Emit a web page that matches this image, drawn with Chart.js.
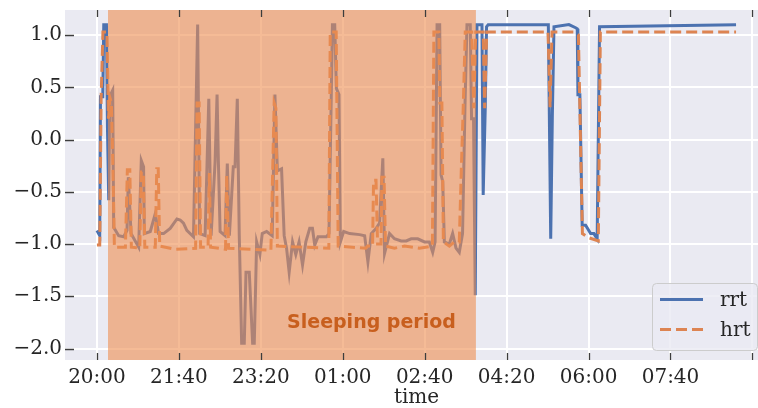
<!DOCTYPE html>
<html>
<head>
<meta charset="utf-8">
<script src="https://cdn.jsdelivr.net/npm/chart.js@4.4.0/dist/chart.umd.min.js"></script>
<style>
  html, body { margin: 0; padding: 0; background: #fff; overflow: hidden; }
</style>
</head>
<body>
<canvas id="myChart" width="770" height="408"></canvas>
<script>
// time axis is in minutes since 20:00
var xTicks = [0, 100, 200, 300, 400, 500, 600, 700, 800];
var xTickLabels = ['20:00', '21:40', '23:20', '01:00', '02:40', '04:20', '06:00', '07:40'];
var yTicks = [-2.0, -1.5, -1.0, -0.5, 0.0, 0.5, 1.0];

// sleeping period (minutes since 20:00)
var sleepStart = 13.5;
var sleepEnd = 462.5;
var sleepLabel = 'Sleeping period';

// rrt
var rrtTime = [0, 3.4, 4.3, 7.1, 8.3, 11.6, 12.8, 14.4, 15.6, 19.2, 20.4, 26.5, 32.6, 36.7, 38.3, 41.6,
  50.9, 54.1, 56.9, 57.8, 65.1, 71.2, 75.2, 81.3, 89.4, 97.6, 101.6, 105.6, 109.7, 117.8, 122.9, 125.3,
  132, 136.5, 139.3, 144.2, 146.6, 148.2, 150.3, 156.3, 159.1, 161.6, 166.4, 168.5, 171.3, 173.7, 176.6,
  179.8, 181.9, 185.9, 190, 192, 194.9, 198.9, 201.7, 207.1, 213.9, 217.2, 220.2, 225.3, 228.5, 231.4,
  234.6, 238.7, 242.7, 246.7, 250.9, 254.9, 259.7, 263, 265.8, 269.8, 280.1, 283.2, 287.4, 290.2, 292.2,
  295.4, 297.1, 301.1, 308.4, 320.6, 326.7, 330.7, 334.8, 340.9, 344.9, 348.9, 351, 357.1, 363.1, 371.3,
  377.4, 383.5, 391.5, 399.7, 405.7, 409.8, 412.7, 415.1, 418.3, 420, 422, 424, 430.1, 434.1, 438.2,
  442.2, 446.2, 449.2, 451.6, 455.6, 457.2, 459.6, 461.7, 463.8, 469.9, 471.4, 473.9, 475.5, 477.5,
  550.9, 553.8, 555.8, 557.8, 576, 584.2, 586.2, 587, 589.4, 592.2, 596.4, 602.5, 606.5, 610.5, 613.4, 780];
var rrtValue = [-0.87, -0.92, 0.41, 0.41, 1.1, 1.1, 0.12, -0.58, 0.41, 0.47, -0.84, -0.92, -0.93, -0.87, -0.36, -0.9,
  -1.03, -0.2, -0.26, -0.9, -0.88, -0.71, -0.9, -0.9, -0.85, -0.76, -0.77, -0.8, -0.87, -0.93, 1.1, -0.9,
  -0.92, 0.39, -0.92, -0.21, 0.43, -0.21, -0.88, -0.92, -0.23, -0.92, -0.26, -0.26, 0.39, -0.92, -1.95,
  -1.95, -1.27, -1.27, -1.95, -1.95, -0.98, -1.1, -0.9, -0.88, -0.92, 0.43, -0.3, -0.28, -0.92, -1.04,
  -1.27, -0.98, -1.1, -0.98, -1.2, -0.98, -0.85, -0.85, -1.01, -0.93, -0.93, -0.9, 1.1, 1.1, 0.49,
  0.43, -0.98, -0.88, -0.9, -0.91, -0.92, -1.17, -0.9, -0.85, -0.8, -0.18, -1.09, -0.9, -0.95, -0.97,
  -0.97, -0.95, -0.95, -0.98, -0.98, -1.08, -0.98, 1.1, 1.1, -0.34, -0.4, -0.98, -1.0, -0.9, -1.04,
  -1.08, -0.9, 0.33, 1.1, 1.1, 0.2, 0.2, -1.49, 1.1, 1.1, -0.53, 0.3, 1.08, 1.1,
  1.1, -0.95, 0.23, 1.08, 1.1, 1.07, 1.06, 0.43, 0.43, -0.82, -0.82, -0.9, -0.9, -0.95, 1.08, 1.1];

// hrt
var hrtTime = [0, 3.4, 5.1, 7.3, 12.2, 14, 15.8, 17.6, 19.5, 21.3, 34.7, 37.1, 40.1, 42, 52.3, 54.1, 56.6,
  58.4, 71.2, 73, 74.8, 76.6, 95.5, 120.4, 122.2, 124.7, 126.5, 135.6, 137.2, 138.7, 156.9, 158.4, 160.6,
  212.3, 216.3, 218.4, 220.2, 283, 284.7, 292, 294.4, 327.9, 330.3, 336.4, 337.6, 340.6, 342.5, 346.7,
  347.7, 350.4, 352.2, 363.1, 375.3, 393.5, 409.4, 411.2, 417.3, 418.5, 421, 422.8, 430.1, 436.2, 442.2,
  444.6, 447.1, 449.5, 457.4, 459.9, 462.3, 471.4, 473.2, 475.7, 550.5, 553, 555.4, 582.1, 587.6, 592.5,
  600.4, 611.9, 614.4, 780];
var hrtValue = [-1.01, -1.01, 0.4, 1.03, 1.03, 0.2, 0.4, 0.35, -0.25, -1.03, -1.03, -0.29, -0.29, -1.03, -1.04, -0.31, -0.31,
  -1.03, -1.03, -0.28, -0.28, -1.02, -1.05, -1.04, 0.35, 0.35, -1.03, -1.03, -0.32, -1.03, -1.05, -0.34, -1.04,
  -1.06, 0.35, 0.3, -1.02, -1.04, 1.03, 1.03, -1.02, -1.04, -1.02, -1.02, -0.39, -0.39, -1.0, -1.0,
  -0.36, -0.36, -1.02, -1.04, -1.02, -1.04, -1.02, 1.03, 1.03, 0.35, 0.35, -0.98, -1.02, -0.98, -0.98,
  -0.31, 0.33, 1.03, 1.03, 0.3, 1.03, 1.03, 0.3, 1.03, 1.03, 0.31, 1.03, 1.03, 1.0, -0.9,
  -0.94, -0.97, 1.03, 1.03];

var textColor = '#262626';

function toPoints(ts, vs) {
  return ts.map(function (t, i) { return { x: t, y: vs[i] }; });
}

// grey plot background
const plotBackground = {
  id: 'plotBackground',
  beforeDraw(chart) {
    const { ctx, chartArea: a } = chart;
    ctx.save();
    ctx.fillStyle = '#eaeaf2';
    ctx.fillRect(a.left, a.top, a.right - a.left, a.bottom - a.top);
    ctx.restore();
  }
};

// shaded sleeping period + its label, drawn over the lines
const sleepSpan = {
  id: 'sleepSpan',
  afterDatasetsDraw(chart) {
    const { ctx, chartArea: a, scales: { x, y } } = chart;
    const x0 = x.getPixelForValue(sleepStart);
    const x1 = x.getPixelForValue(sleepEnd);
    ctx.save();
    ctx.fillStyle = 'rgba(239, 141, 80, 0.6)';
    ctx.fillRect(x0, a.top, x1 - x0, a.bottom - a.top);
    ctx.fillStyle = '#c85f1e';
    ctx.font = 'bold 19px "DejaVu Sans"';
    ctx.textAlign = 'left';
    ctx.textBaseline = 'alphabetic';
    ctx.fillText(sleepLabel, x.getPixelForValue(232), y.getPixelForValue(-1.8));
    ctx.restore();
  }
};

// small inward tick marks on every side
const innerTicks = {
  id: 'innerTicks',
  afterDatasetsDraw(chart) {
    const { ctx, chartArea: a, scales: { x, y } } = chart;
    ctx.save();
    ctx.strokeStyle = '#3d3d3d';
    ctx.lineWidth = 1.3;
    ctx.beginPath();
    x.ticks.forEach(function (t) {
      const px = Math.round(x.getPixelForValue(t.value)) + 0.5;
      ctx.moveTo(px, a.top); ctx.lineTo(px, a.top + 7);
      ctx.moveTo(px, a.bottom); ctx.lineTo(px, a.bottom - 7);
    });
    y.ticks.forEach(function (t) {
      const py = Math.round(y.getPixelForValue(t.value)) + 0.5;
      ctx.moveTo(a.left, py); ctx.lineTo(a.left + 9, py);
      ctx.moveTo(a.right, py); ctx.lineTo(a.right - 9, py);
    });
    ctx.stroke();
    ctx.restore();
  }
};

// legend box in the lower right corner
const cornerLegend = {
  id: 'cornerLegend',
  afterDraw(chart) {
    const { ctx, chartArea: a } = chart;
    const right = a.right - 11, bottom = a.bottom - 10;
    const left = right - 105, top = bottom - 67;
    ctx.save();
    ctx.beginPath();
    ctx.roundRect(left + 0.5, top + 0.5, right - left, bottom - top, 4);
    ctx.fillStyle = 'rgba(234, 234, 242, 0.8)';
    ctx.fill();
    ctx.strokeStyle = '#cccccc';
    ctx.lineWidth = 1;
    ctx.stroke();
    ctx.font = '20px "DejaVu Serif"';
    ctx.textBaseline = 'middle';
    ctx.fillStyle = textColor;
    chart.data.datasets.forEach(function (ds, i) {
      const ly = top + 16.5 + i * 30;
      ctx.beginPath();
      ctx.setLineDash(ds.borderDash || []);
      ctx.strokeStyle = ds.borderColor;
      ctx.lineWidth = ds.borderWidth;
      ctx.moveTo(left + 8, ly);
      ctx.lineTo(left + 51, ly);
      ctx.stroke();
      ctx.setLineDash([]);
      ctx.fillText(ds.label, left + 68, ly + 1);
    });
    ctx.restore();
  }
};

Chart.defaults.font.family = '"DejaVu Serif"';
Chart.defaults.font.size = 20;
Chart.defaults.color = textColor;

var ctx = document.getElementById('myChart');
var myChart = new Chart(ctx, {
  type: 'line',
  data: {
    datasets: [
      {
        label: 'rrt',
        data: toPoints(rrtTime, rrtValue),
        borderColor: '#4c72b0',
        borderWidth: 3,
        pointRadius: 0,
        order: 1
      },
      {
        label: 'hrt',
        data: toPoints(hrtTime, hrtValue),
        borderColor: '#dd8452',
        borderWidth: 3,
        borderDash: [11, 5],
        pointRadius: 0,
        order: 0
      }
    ]
  },
  options: {
    responsive: false,
    animation: false,
    events: [],
    layout: { padding: { left: 0, right: 2, top: 10, bottom: 0 } },
    plugins: {
      legend: { display: false },
      tooltip: { enabled: false }
    },
    scales: {
      x: {
        type: 'linear',
        min: -39,
        max: 819,
        afterBuildTicks: function (scale) {
          scale.ticks = xTicks.map(function (v) { return { value: v }; });
        },
        afterFit: function (scale) {
          scale.height = 48;
          scale.paddingLeft = 0;
          scale.paddingRight = 0;
        },
        ticks: {
          padding: 6,
          maxRotation: 0,
          autoSkip: false,
          callback: function (value, index) {
            return xTickLabels[index] || '';
          }
        },
        grid: { color: '#ffffff', lineWidth: 2, drawTicks: false },
        border: { display: false },
        title: {
          display: true,
          text: 'time',
          font: { size: 20, lineHeight: 1 },
          padding: { top: 0, bottom: 0 }
        }
      },
      y: {
        type: 'linear',
        min: -2.11,
        max: 1.24,
        afterBuildTicks: function (scale) {
          scale.ticks = yTicks.map(function (v) { return { value: v }; });
        },
        afterFit: function (scale) {
          scale.width = 65;
          scale.paddingTop = 0;
          scale.paddingBottom = 0;
        },
        ticks: {
          padding: 3,
          callback: function (value) {
            return value.toFixed(1).replace('-', '\u2212');
          }
        },
        grid: { color: '#ffffff', lineWidth: 2, drawTicks: false },
        border: { display: false }
      }
    }
  },
  plugins: [plotBackground, sleepSpan, innerTicks, cornerLegend]
});
</script>
</body>
</html>
